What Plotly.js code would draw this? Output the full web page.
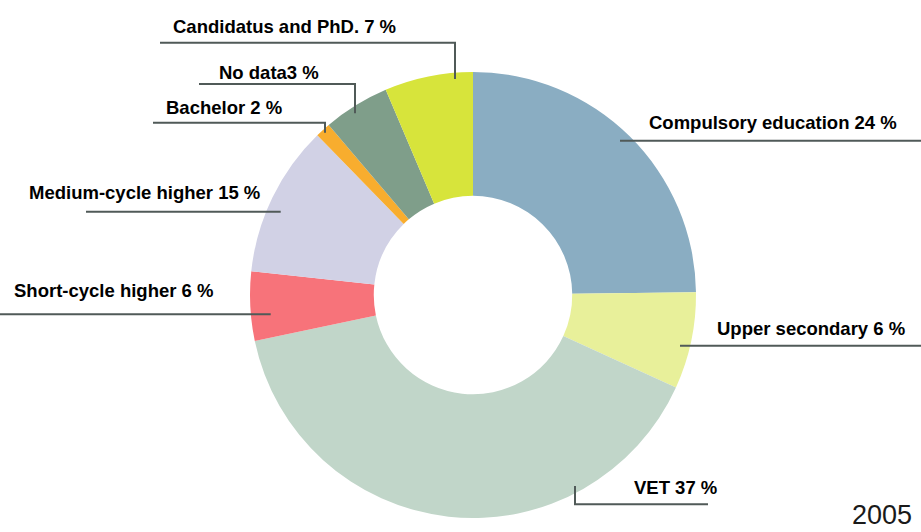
<!DOCTYPE html>
<html>
<head>
<meta charset="utf-8">
<script src="https://cdn.plot.ly/plotly-3.0.1.min.js"></script>
<style>html,body{margin:0;padding:0;background:#fff;}#chart{width:921px;height:532px;}</style>
</head>
<body>
<div id="chart"></div>
<script>
// Categories in drawing order (clockwise from 12 o'clock)
const categories = ["Compulsory education", "Upper secondary", "VET", "Short-cycle higher",
  "Medium-cycle higher", "Bachelor", "No data", "Candidatus and PhD."];
const shares = [24.8, 7.0, 39.9, 5.0, 11.0, 1.1, 4.8, 6.4];
// Printed label texts
const labelTexts = ["Compulsory education 24 %", "Upper secondary 6 %", "VET 37 %",
  "Short-cycle higher 6 %", "Medium-cycle higher 15 %", "Bachelor 2 %", "No data3 %",
  "Candidatus and PhD. 7 %"];
const sliceColors = ["#8aadc2", "#e8f09a", "#c1d6c9", "#f7737a", "#d1d1e5", "#f8ad2e", "#7f9e8a", "#d7e43b"];
const yearLabel = "2005";

const W = 921, H = 532;
const px = x => x / W;
const py = y => 1 - y / H;

// label placement (pixel), one per category
const labelPos = [
  [648, 123], [716, 328], [633, 487], [13, 290], [28, 192], [165, 108], [218, 72], [172, 26]
];
// leader line polylines (pixel)
const leaders = [
  [[620, 140.7], [921, 140.7]],
  [[680, 345.7], [921, 345.7]],
  [[575, 486], [575, 504.3], [708, 504.3]],
  [[0, 314.3], [270.7, 314.3]],
  [[86, 211.7], [280.7, 211.7]],
  [[153, 122.7], [325, 122.7], [325, 132.7]],
  [[199, 84], [355, 84], [355, 113.3]],
  [[160, 42.7], [455, 42.7], [455, 79]]
];

const cx = 473, cy = 295, R = 223;
const trace = {
  type: "pie",
  labels: categories,
  values: shares,
  sort: false,
  direction: "clockwise",
  rotation: 0,
  hole: 0.445,
  textinfo: "none",
  hoverinfo: "none",
  showlegend: false,
  marker: {colors: sliceColors, line: {width: 0}},
  domain: {x: [px(cx - R), px(cx + R)], y: [py(cy + R), py(cy - R)]}
};

const font = {family: "Liberation Sans, Arial, sans-serif", size: 18.5, color: "#000"};
const annotations = labelTexts.map((t, i) => ({
  text: "<b>" + t + "</b>", xref: "paper", yref: "paper",
  x: px(labelPos[i][0]), y: py(labelPos[i][1]), xanchor: "left", yanchor: "middle",
  showarrow: false, font: font, borderpad: 0
}));
annotations.push({
  text: yearLabel, xref: "paper", yref: "paper", x: px(851), y: py(531),
  xanchor: "left", yanchor: "bottom", showarrow: false, borderpad: 0,
  font: {family: "Liberation Sans, Arial, sans-serif", size: 27, color: "#1a1a1a"}
});

const shapes = leaders.map(pts => ({
  type: "path", xref: "paper", yref: "paper",
  path: pts.map((p, j) => (j ? "L" : "M") + px(p[0]) + "," + py(p[1])).join(" "),
  line: {color: "#505a58", width: 2}
}));

Plotly.newPlot("chart", [trace], {
  width: W, height: H,
  margin: {l: 0, r: 0, t: 0, b: 0},
  paper_bgcolor: "#fff",
  annotations: annotations,
  shapes: shapes
}, {displayModeBar: false, staticPlot: true});
</script>
</body>
</html>
